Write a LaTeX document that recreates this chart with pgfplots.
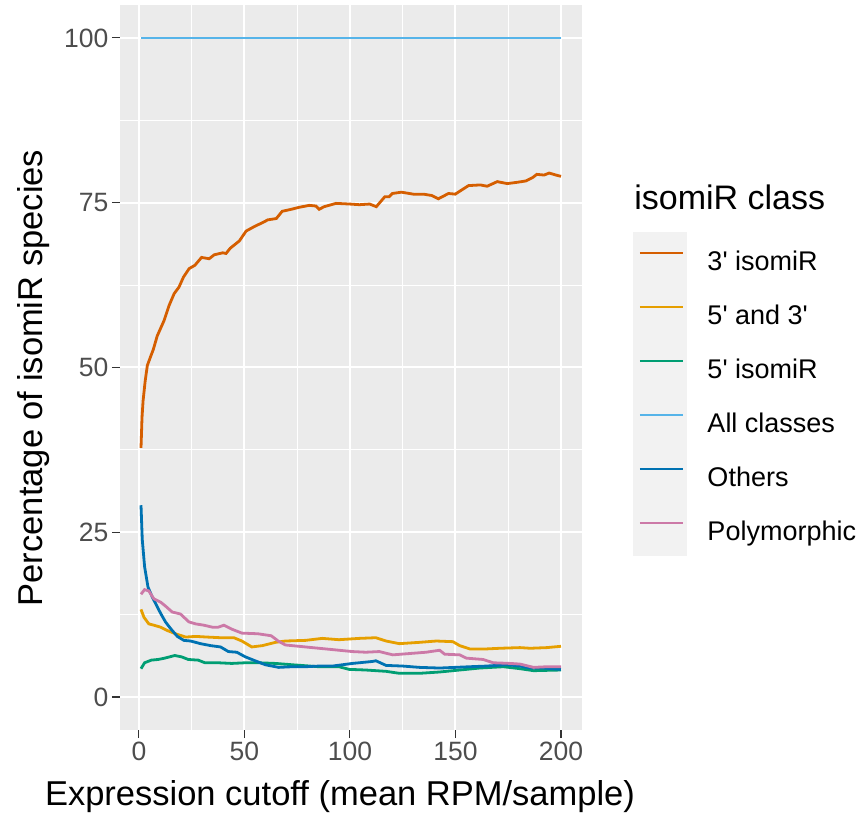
\documentclass[border=0pt]{standalone}
\usepackage{pgfplots}
\pgfplotsset{compat=1.18}
\usepackage{fontspec}
\setmainfont{Liberation Sans}[Ligatures=TeXOff]
\definecolor{cA}{HTML}{D55E00}
\definecolor{cB}{HTML}{E69F00}
\definecolor{cC}{HTML}{009E73}
\definecolor{cD}{HTML}{56B4E9}
\definecolor{cE}{HTML}{0072B2}
\definecolor{cF}{HTML}{CC79A7}
\definecolor{grey92}{HTML}{EBEBEB}
\definecolor{grey95}{HTML}{F2F2F2}
\definecolor{grey30}{HTML}{4D4D4D}
\definecolor{grey20}{HTML}{333333}
\begin{document}
\begin{tikzpicture}
\useasboundingbox (0,0) rectangle (431pt,406.5pt);
\fill[grey95] (316.35pt,128.5pt) rectangle (343.65pt,290.65pt);
\node[anchor=base west, inner sep=0pt, font=\fontsize{17}{20}\selectfont] at (317pt,301.85pt) {isomiR class};
\begin{axis}[
  at={(60pt,41.5pt)}, anchor=south west,
  scale only axis, width=231pt, height=362.5pt,
  xmin=-8.95, xmax=209.95, ymin=-5, ymax=105,
  axis background/.style={fill=grey92},
  axis line style={draw=none},
  xtick={0,50,100,150,200}, ytick={0,25,50,75,100},
  minor xtick={25,75,125,175}, minor ytick={12.5,37.5,62.5,87.5},
  grid=both,
  major grid style={white, line width=1pt},
  minor grid style={white, line width=0.55pt},
  tick pos=left, tick align=outside,
  major tick length=4.1pt, minor tick length=0pt,
  major tick style={grey20, line width=0.55pt},
  /pgf/number format/assume math mode=true,
  ticklabel style={font=\fontsize{13.25}{15}\selectfont, text=grey30},
  yticklabel style={inner sep=1.5pt},
  xticklabel style={inner sep=1.5pt},
  xlabel={Expression cutoff (mean RPM/sample)},
  ylabel={Percentage of isomiR species},
  label style={font=\fontsize{17.25}{20}\selectfont},
  xlabel style={at={(axis description cs:0.4762,-0.1048)}, anchor=base, inner sep=0pt},
  ylabel style={at={(axis description cs:-0.1688,0.4855)}, anchor=base, inner sep=0pt},
  legend style={at={(1.1212,0.6621)}, anchor=north west, draw=none, fill=none,
    inner sep=0pt, row sep=14pt, column sep=11.3pt,
    font=\fontsize{13.5}{16}\selectfont,
    nodes={inner sep=0pt, text height=10pt, text depth=3pt}},
  legend cell align=left,
  legend image code/.code={\draw[#1, line width=1.4pt] (0pt,5.2pt) -- (21.85pt,5.2pt);},
  every axis plot/.append style={line width=1.4pt},
]
\addplot[cA] coordinates {(1,37.8)(1.5,42.5)(2,45)(3,48)(4,50.3)(5.6,51.7)(6.8,52.7)(8.7,54.8)(11.9,57.1)(14.3,59.4)(16.7,61.2)(19,62.2)(21.1,63.7)(23.8,65.0)(26.5,65.5)(29.7,66.7)(33.3,66.5)(35.7,67.1)(39.7,67.4)(41.3,67.3)(43.3,68.1)(47.6,69.2)(50.8,70.7)(54.8,71.4)(58.7,72.0)(61.1,72.4)(65.1,72.6)(67.9,73.7)(72.2,74.0)(75.9,74.3)(80.7,74.6)(83.9,74.5)(85.4,74.0)(87.8,74.4)(93.4,74.9)(99.8,74.8)(104.5,74.7)(109.3,74.8)(112.5,74.4)(116.5,75.9)(118.5,75.9)(120.1,76.4)(124.4,76.6)(130,76.3)(134.8,76.3)(138.7,76.1)(141.9,75.6)(146.7,76.4)(149.9,76.3)(152.3,76.8)(156.2,77.6)(161.8,77.7)(165,77.5)(169.8,78.2)(174.5,77.9)(179.3,78.1)(183.3,78.3)(186.5,78.8)(188.5,79.3)(192,79.2)(194.4,79.5)(197.6,79.2)(200,79.0)};
\addlegendentry{3' isomiR}
\addplot[cB] coordinates {(1,13.3)(2.4,12.1)(4.7,11.1)(7.1,10.9)(10.3,10.6)(13.4,10.1)(17.4,9.6)(22.1,9.1)(26.9,9.2)(32.4,9.1)(38.7,9.0)(45,9.0)(48.8,8.5)(53.5,7.6)(58.5,7.8)(64.7,8.3)(69.4,8.5)(79,8.6)(86.9,8.9)(94.8,8.7)(104.4,8.9)(112.3,9.0)(117.1,8.5)(123.4,8.1)(133,8.3)(140.9,8.5)(148.8,8.4)(152,7.8)(156.8,7.3)(164.7,7.3)(171.1,7.4)(180.6,7.5)(185.4,7.4)(193.3,7.5)(200,7.7)};
\addlegendentry{5' and 3'}
\addplot[cC] coordinates {(1,4.3)(2.7,5.2)(5.9,5.6)(9.1,5.7)(12.2,5.9)(17,6.3)(20.2,6.1)(23.4,5.7)(28.1,5.6)(31.3,5.2)(37.6,5.2)(44,5.1)(50.4,5.2)(56.7,5.2)(64.7,5.1)(72.6,4.9)(85.3,4.6)(94.8,4.6)(99.6,4.2)(107.5,4.1)(117.1,3.9)(123.4,3.6)(133,3.6)(142.5,3.8)(152,4.1)(161.5,4.4)(172.7,4.6)(180.6,4.3)(187,4.0)(200,4.1)};
\addlegendentry{5' isomiR}
\addplot[cD] coordinates {(1,100)(200,100)};
\addlegendentry{All classes}
\addplot[cE] coordinates {(1,29.1)(1.6,23.9)(2.7,19.8)(4.3,16.7)(6.3,15.2)(7.9,14.2)(10.3,12.7)(12.6,11.4)(15,10.4)(18.2,9.2)(21.3,8.6)(24.5,8.5)(29.2,8.1)(34,7.8)(38.7,7.6)(42.4,6.9)(46.4,6.8)(50.4,6.1)(55.1,5.5)(59.9,4.9)(66.2,4.5)(72.6,4.6)(79,4.6)(85.3,4.7)(91.7,4.7)(101.2,5.1)(110.7,5.4)(112.3,5.5)(117.1,4.8)(125,4.7)(133,4.5)(142.5,4.4)(156.8,4.6)(164.7,4.7)(174.3,4.9)(180.6,4.7)(185.4,4.4)(191.7,4.4)(200,4.2)};
\addlegendentry{Others}
\addplot[cF] coordinates {(1,15.6)(2.7,16.3)(4.7,16.1)(7.1,14.9)(10.3,14.4)(12.6,13.8)(15.8,12.9)(19.7,12.6)(23.7,11.4)(26.9,11.1)(30.8,10.9)(34.8,10.6)(37.6,10.6)(40.3,10.9)(44,10.3)(48.8,9.7)(56.4,9.6)(62.7,9.3)(66,8.5)(69.4,7.9)(75.8,7.7)(82.1,7.5)(88.5,7.3)(94.8,7.1)(101.2,6.9)(107.5,6.8)(113.9,6.9)(120.3,6.4)(128.2,6.6)(136.1,6.8)(142.5,7.1)(144.9,6.5)(152,6.4)(155.2,5.9)(163.1,5.7)(167.9,5.2)(175.9,5.1)(180.6,5.0)(187,4.5)(193.3,4.6)(200,4.6)};
\addlegendentry{Polymorphic}
\end{axis}
\end{tikzpicture}
\end{document}
